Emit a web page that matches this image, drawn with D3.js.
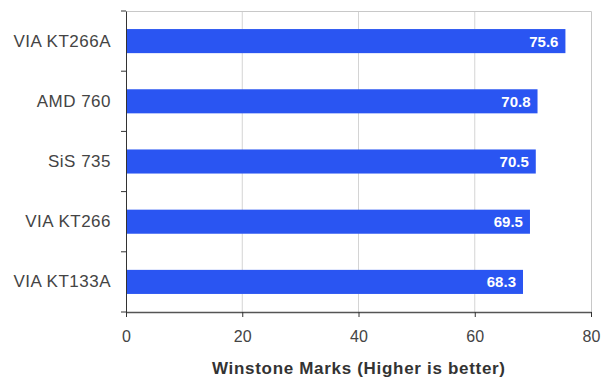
<!DOCTYPE html>
<html><head><meta charset="utf-8">
<script src="https://cdn.jsdelivr.net/npm/d3@7"></script>
<style>body{margin:0;background:#fff}</style>
</head><body>
<svg id="c" width="603" height="382"></svg>
<script>
const categories = ["VIA KT266A", "AMD 760", "SiS 735", "VIA KT266", "VIA KT133A"];
const values = [75.6, 70.8, 70.5, 69.5, 68.3];
const xTicks = [0, 20, 40, 60, 80];
const xTitle = "Winstone Marks (Higher is better)";

const FONT = "Arial, 'Liberation Sans', sans-serif";
const svg = d3.select("#c");
const m = {l:126, t:11};
const x = d3.scaleLinear().domain([0,80]).range([m.l, 591]);
const y = d3.scaleBand().domain(categories).range([m.t, 312]).paddingInner(0.6).paddingOuter(0.3);

// grid
svg.append("g").selectAll("line").data(xTicks.slice(1,-1)).join("line")
  .attr("x1", d=>x(d)).attr("x2", d=>x(d)).attr("y1", m.t).attr("y2", 312)
  .attr("stroke", "#d4d4d4").attr("stroke-width", 1);
// frame top and right
svg.append("path").attr("d", `M${m.l},${m.t+0.5}H${x(80)+0.5}V312`)
  .attr("fill","none").attr("stroke","#c8c8c8");

// bars
svg.append("g").selectAll("rect").data(values).join("rect")
  .attr("x", x(0)).attr("y", (d,i)=>y(categories[i]))
  .attr("width", d=>x(d)-x(0)).attr("height", y.bandwidth())
  .attr("fill", "#2a55f2");

svg.append("g").selectAll("text").data(values).join("text")
  .attr("x", d=>x(d)-7).attr("y", (d,i)=>y(categories[i])+y.bandwidth()/2)
  .attr("dy","0.36em").attr("text-anchor","end")
  .attr("fill","#fff").attr("font-family",FONT)
  .attr("font-size", 15).attr("font-weight","bold")
  .text(d=>d.toFixed(1));

// x axis
const xa = svg.append("g").attr("transform", "translate(0,312)")
  .call(d3.axisBottom(x).tickValues(xTicks).tickSize(5).tickSizeOuter(0).tickPadding(14));
xa.select(".domain").attr("stroke","#555").attr("stroke-width",1.5);
xa.selectAll("line").attr("stroke","#333");
xa.selectAll("text").attr("font-family",FONT).attr("font-size",16).attr("fill","#444");

// y axis
const ya = svg.append("g").attr("transform", `translate(${m.l},0)`)
  .call(d3.axisLeft(y).tickSize(0).tickPadding(15));
ya.select(".domain").attr("stroke","#333");
ya.selectAll("text").attr("font-family",FONT).attr("font-size",17).attr("fill","#444")
  .attr("letter-spacing","0.5px");
// boundary ticks on y axis
const bounds = d3.range(categories.length+1).map(i=>m.t + i*(312-m.t)/categories.length);
svg.append("g").selectAll("line").data(bounds).join("line")
  .attr("x1", m.l-5).attr("x2", m.l).attr("y1", d=>d).attr("y2", d=>d)
  .attr("stroke","#333");

svg.append("text").attr("x", (x(0)+x(80))/2).attr("y", 374)
  .attr("text-anchor","middle").attr("font-family",FONT)
  .attr("font-size",17).attr("font-weight","bold").attr("fill","#333")
  .attr("textLength", 293).attr("lengthAdjust","spacing")
  .text(xTitle);
</script>
</body></html>
